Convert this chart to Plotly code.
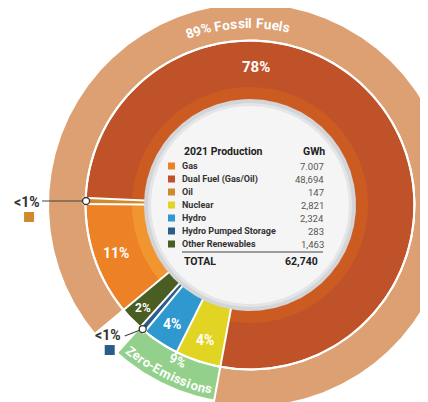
import numpy as np
import plotly.graph_objects as go

# ---------------- data ----------------
categories = ["Gas", "Dual Fuel (Gas/Oil)", "Oil", "Nuclear", "Hydro",
              "Hydro Pumped Storage", "Other Renewables"]
gwh = [7007, 48694, 147, 2821, 2324, 283, 1463]
gwh_labels = ["7.007", "48,694", "147", "2,821", "2,324", "283", "1,463"]
colors = ["#EC8125", "#C0522A", "#CF8A2E", "#E2D423", "#2E98CF", "#2B5D8A", "#4A5D22"]
total_label = "62,740"
table_title = "2021 Production"
table_unit = "GWh"

# clockwise order of the inner ring, starting from the oil / dual fuel boundary
ring_order = ["Dual Fuel (Gas/Oil)", "Nuclear", "Hydro", "Hydro Pumped Storage",
              "Other Renewables", "Gas", "Oil"]
group_names = ["Fossil Fuels", "Zero-Emissions"]
group_members = [["Gas", "Dual Fuel (Gas/Oil)", "Oil"],
                 ["Nuclear", "Hydro", "Hydro Pumped Storage"]]
group_colors = ["#DCA073", "#93D08B"]
band_colors = {"Dual Fuel (Gas/Oil)": "#CC5B22", "Gas": "#F19530"}

# ---------------- geometry helpers ----------------
START = -87.5          # clockwise degrees from 12 o'clock
MIN_SLIVER = 2.2       # minimum visible angle for tiny slices
R_DISC, R_RIM = 99, 106
R_IN0, R_IN1 = 105, 163.5
R_OUT0 = 165.5
R_OUT1 = {"Fossil Fuels": 201, "Zero-Emissions": 198}
R_BAND = 118

total = sum(gwh)
val = dict(zip(categories, gwh))
col = dict(zip(categories, colors))


def pol(r, th):
    t = np.radians(th)
    return r * np.sin(t), r * np.cos(t)


def wedge(r0, r1, a0, a1):
    n = max(3, int(abs(a1 - a0) * 2))
    th = np.linspace(a0, a1, n)
    xo, yo = pol(r1, th)
    xi, yi = pol(r0, th[::-1])
    return np.r_[xo, xi, xo[:1]], np.r_[yo, yi, yo[:1]]


# display angles (true share, tiny slivers widened slightly)
raw = np.array([val[c] / total * 360 for c in ring_order])
disp = np.maximum(raw, MIN_SLIVER)
big = raw > MIN_SLIVER
disp[big] = raw[big] - (disp.sum() - 360) * raw[big] / raw[big].sum()
bounds = START + np.r_[0, np.cumsum(disp)]
span = {c: (bounds[i], bounds[i + 1]) for i, c in enumerate(ring_order)}

fig = go.Figure()

# outer ring (groups)
for g, members, gc in zip(group_names, group_members, group_colors):
    if g == "Fossil Fuels":
        a0, a1 = span["Gas"][0], span["Dual Fuel (Gas/Oil)"][1] + 360
    else:
        idx = sorted(ring_order.index(m) for m in members)
        a0, a1 = span[ring_order[idx[0]]][0], span[ring_order[idx[-1]]][1]
    x, y = wedge(R_OUT0, R_OUT1[g], a0, a1)
    fig.add_trace(go.Scatter(x=x, y=y, fill="toself", fillcolor=gc, mode="lines",
                             line=dict(width=0), hoverinfo="skip"))

# inner ring (categories)
for c in ring_order:
    a0, a1 = span[c]
    x, y = wedge(R_IN0, R_IN1, a0, a1)
    fig.add_trace(go.Scatter(x=x, y=y, fill="toself", fillcolor=col[c], mode="lines",
                             line=dict(width=0), hoverinfo="skip"))
    if c in band_colors:
        x, y = wedge(R_IN0, R_BAND, a0, a1)
        fig.add_trace(go.Scatter(x=x, y=y, fill="toself", fillcolor=band_colors[c],
                                 mode="lines", line=dict(width=0), hoverinfo="skip"))

# white separators
sx, sy = [], []
for b in bounds[:-1]:
    x0, y0 = pol(R_IN0, b)
    x1, y1 = pol(R_OUT0 + 2, b)
    sx += [x0, x1, None]
    sy += [y0, y1, None]
for b in [span["Nuclear"][0], span["Hydro Pumped Storage"][1], span["Gas"][0]]:
    x0, y0 = pol(R_OUT0, b)
    x1, y1 = pol(205, b)
    sx += [x0, x1, None]
    sy += [y0, y1, None]
th = np.linspace(0, 360, 721)
cx, cy = pol((R_IN1 + R_OUT0) / 2, th)
sx += list(cx) + [None]
sy += list(cy) + [None]
fig.add_trace(go.Scatter(x=sx, y=sy, mode="lines", line=dict(color="white", width=2),
                         hoverinfo="skip"))

# centre disc
for r, fc in [(R_RIM, "#D3D5D8"), (R_DISC + 3, "#E4E5E7"), (R_DISC, "#F5F5F5")]:
    x, y = pol(r, th)
    fig.add_trace(go.Scatter(x=x, y=y, fill="toself", fillcolor=fc, mode="lines",
                             line=dict(width=0), hoverinfo="skip"))

# ---------------- table inside the disc ----------------
HEAD_Y, ROW0_Y, ROW_STEP = 54, 39, 13
X_SQ, X_TXT, X_VAL = -78.5, -70, 76
row_y = [ROW0_Y - i * ROW_STEP for i in range(len(categories))]
fig.add_trace(go.Scatter(x=[X_SQ] * len(categories), y=row_y, mode="markers",
                         marker=dict(symbol="square", size=7, color=colors),
                         hoverinfo="skip"))
line_y = row_y[-1] - 8
fig.add_trace(go.Scatter(x=[-68, 73], y=[line_y, line_y], mode="lines",
                         line=dict(color="#444", width=1.2), hoverinfo="skip"))

ann = []
FONT = "Roboto"
ann.append(dict(x=-68, y=HEAD_Y, text=table_title, xanchor="left", yanchor="middle",
                font=dict(family=FONT, size=10.5, color="#222", weight="bold")))
ann.append(dict(x=X_VAL + 1, y=HEAD_Y, text=table_unit, xanchor="right", yanchor="middle",
                font=dict(family=FONT, size=10.5, color="#222", weight="bold")))
for c, lab, yy in zip(categories, gwh_labels, row_y):
    ann.append(dict(x=X_TXT, y=yy, text=c, xanchor="left", yanchor="middle",
                    font=dict(family=FONT, size=9, color="#333", weight="bold")))
    ann.append(dict(x=X_VAL, y=yy, text=lab, xanchor="right", yanchor="middle",
                    font=dict(family=FONT, size=9.5, color="#555")))
ann.append(dict(x=-68, y=line_y - 9, text="TOTAL", xanchor="left", yanchor="middle",
                font=dict(family=FONT, size=10.5, color="#222", weight="bold")))
ann.append(dict(x=70, y=line_y - 9, text=total_label, xanchor="right", yanchor="middle",
                font=dict(family=FONT, size=10.5, color="#222", weight="bold")))

# ---------------- slice percentage labels ----------------
label_theta = {"Dual Fuel (Gas/Oil)": 2.5}
label_r = {"Dual Fuel (Gas/Oil)": 138, "Other Renewables": 149}
label_size = {"Dual Fuel (Gas/Oil)": 15, "Other Renewables": 12}
callouts = []
for c in ring_order:
    p = val[c] / total * 100
    a0, a1 = span[c]
    mid = (a0 + a1) / 2
    if p < 1:
        callouts.append((c, mid))
        continue
    t = label_theta.get(c, mid)
    x, y = pol(label_r.get(c, 142), t)
    ann.append(dict(x=x, y=y, text=f"{round(p)}%", xanchor="center", yanchor="middle",
                    font=dict(family=FONT, size=label_size.get(c, 14), color="white",
                              weight="bold")))

# callouts for the < 1% slivers: (line dx, line dy, label dx, label dy, square dx, square dy)
callout_offsets = {"Oil": (-44, 0, -44, -1, -57, -16),
                   "Hydro Pumped Storage": (-18, -7, -20, -6, -33, -21)}
lx, ly, dx_, dy_ = [], [], [], []
for c, mid in callouts:
    x0, y0 = pol(R_IN1 + 0.5, mid)
    ox, oy, tx, ty, qx, qy = callout_offsets[c]
    lx += [x0, x0 + ox, None]
    ly += [y0, y0 + oy, None]
    dx_.append(x0)
    dy_.append(y0)
    ann.append(dict(x=x0 + tx, y=y0 + ty, text="<1%", xanchor="right", yanchor="middle",
                    font=dict(family=FONT, size=14, color="#333", weight="bold")))
    fig.add_trace(go.Scatter(x=[x0 + qx], y=[y0 + qy], mode="markers",
                             marker=dict(symbol="square", size=10, color=col[c]),
                             hoverinfo="skip"))
fig.add_trace(go.Scatter(x=lx, y=ly, mode="lines", line=dict(color="#444", width=1.2),
                         hoverinfo="skip"))
fig.add_trace(go.Scatter(x=dx_, y=dy_, mode="markers",
                         marker=dict(symbol="circle", size=7, color="white",
                                     line=dict(color="#333", width=1.3)),
                         hoverinfo="skip"))

# ---------------- curved group labels ----------------
CW = {'8': .562, '9': .562, '%': .733, ' ': .26, 'F': .546, 'o': .571, 's': .527,
      'i': .247, 'l': .247, 'u': .561, 'e': .533, 'Z': .6, 'r': .35, '-': .28,
      'E': .568, 'm': .88, 'n': .558}


def arc_text(text, r, theta_c, size, top=True, spacing=0.3):
    w = [CW.get(ch, .55) * size + spacing for ch in text]
    pos = -sum(w) / 2
    for ch, wi in zip(text, w):
        s = pos + wi / 2
        pos += wi
        d = np.degrees(s / r)
        if top:
            t, rot = theta_c + d, theta_c + d
        else:
            t, rot = theta_c - d, theta_c - d - 180
        if ch == " ":
            continue
        x, y = pol(r, t)
        ann.append(dict(x=x, y=y, text=ch, textangle=rot, xanchor="center",
                        yanchor="middle", showarrow=False,
                        font=dict(family=FONT, size=size, color="white", weight="bold")))


fossil_pct = round(sum(val[m] for m in group_members[0]) / total * 100)
zero_pct = round(sum(val[m] for m in group_members[1]) / total * 100)
arc_text(f"{fossil_pct}% {group_names[0]}", 182, -4, 13.5, top=True)
arc_text(group_names[1], 188.5, 206, 13, top=False)
x, y = pol(172, 205)
ann.append(dict(x=x, y=y, text=f"{zero_pct}%", textangle=25, xanchor="center",
                yanchor="middle",
                font=dict(family=FONT, size=13, color="white", weight="bold")))

for a in ann:
    a.setdefault("showarrow", False)
    a["xref"] = "x"
    a["yref"] = "y"

# the page has an 8 px body margin: the figure covers page pixels 8..428 x 8..402
fig.update_layout(
    width=420, height=394, margin=dict(l=0, r=0, t=0, b=0),
    paper_bgcolor="white", plot_bgcolor="white", showlegend=False,
    xaxis=dict(range=[-242, 178], visible=False, fixedrange=True),
    yaxis=dict(range=[-197, 197], visible=False, fixedrange=True),
    annotations=ann,
)
fig.write_html("out.html")
